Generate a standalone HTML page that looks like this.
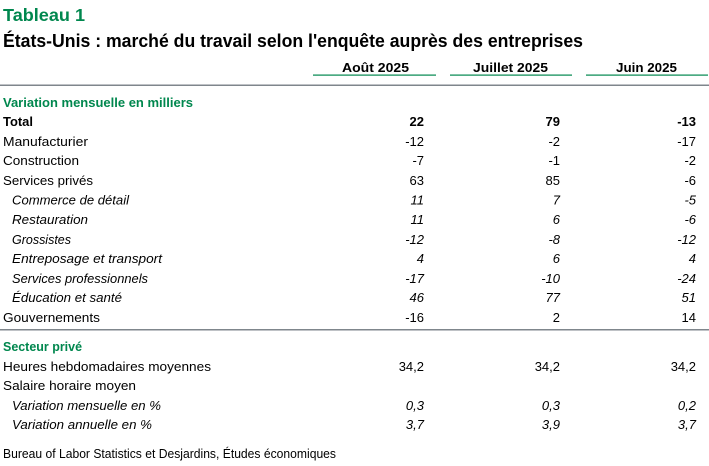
<!DOCTYPE html>
<html><head><meta charset="utf-8"><style>
html,body{margin:0;padding:0;background:#fff;}
svg{display:block;}
text{font-family:"Liberation Sans",sans-serif;fill:#000;}
.g{fill:#00874e;font-weight:bold;}
.b{font-weight:bold;}
.i{font-style:italic;}
.n{font-size:13px;text-anchor:end;}
.l{font-size:13px;}
</style></head><body>
<svg width="709" height="466" viewBox="0 0 709 466" xmlns="http://www.w3.org/2000/svg">
<text x="3" y="21" class="g" style="font-size:17.5px" textLength="82" lengthAdjust="spacingAndGlyphs">Tableau 1</text>
<text x="3" y="47" class="b" style="font-size:18.5px" textLength="580" lengthAdjust="spacingAndGlyphs">États-Unis : marché du travail selon l'enquête auprès des entreprises</text>

<text x="342" y="72" class="b l" textLength="67" lengthAdjust="spacingAndGlyphs">Août 2025</text>
<text x="473" y="72" class="b l" textLength="75" lengthAdjust="spacingAndGlyphs">Juillet 2025</text>
<text x="616" y="72" class="b l" textLength="61" lengthAdjust="spacingAndGlyphs">Juin 2025</text>
<rect x="313" y="74.5" width="123" height="1.2" fill="#00874e"/>
<rect x="450" y="74.5" width="122" height="1.2" fill="#00874e"/>
<rect x="586" y="74.5" width="122" height="1.2" fill="#00874e"/>
<rect x="0" y="84.5" width="709" height="1.5" fill="#7f868c"/>

<text x="3" y="107" class="g l" textLength="190" lengthAdjust="spacingAndGlyphs">Variation mensuelle en milliers</text>

<text x="3" y="126" class="b l" textLength="30" lengthAdjust="spacingAndGlyphs">Total</text>
<text x="424" y="126" class="b n">22</text><text x="560" y="126" class="b n">79</text><text x="696" y="126" class="b n">-13</text>

<text x="3" y="146" class="l" textLength="85" lengthAdjust="spacingAndGlyphs">Manufacturier</text>
<text x="424" y="146" class="n">-12</text><text x="560" y="146" class="n">-2</text><text x="696" y="146" class="n">-17</text>

<text x="3" y="165" class="l" textLength="76" lengthAdjust="spacingAndGlyphs">Construction</text>
<text x="424" y="165" class="n">-7</text><text x="560" y="165" class="n">-1</text><text x="696" y="165" class="n">-2</text>

<text x="3" y="185" class="l" textLength="90" lengthAdjust="spacingAndGlyphs">Services privés</text>
<text x="424" y="185" class="n">63</text><text x="560" y="185" class="n">85</text><text x="696" y="185" class="n">-6</text>

<text x="12" y="204.5" class="l i" textLength="117" lengthAdjust="spacingAndGlyphs">Commerce de détail</text>
<text x="424" y="204.5" class="n i">11</text><text x="560" y="204.5" class="n i">7</text><text x="696" y="204.5" class="n i">-5</text>

<text x="12" y="224" class="l i" textLength="76" lengthAdjust="spacingAndGlyphs">Restauration</text>
<text x="424" y="224" class="n i">11</text><text x="560" y="224" class="n i">6</text><text x="696" y="224" class="n i">-6</text>

<text x="12" y="244" class="l i" textLength="59" lengthAdjust="spacingAndGlyphs">Grossistes</text>
<text x="424" y="244" class="n i">-12</text><text x="560" y="244" class="n i">-8</text><text x="696" y="244" class="n i">-12</text>

<text x="12" y="263" class="l i" textLength="150" lengthAdjust="spacingAndGlyphs">Entreposage et transport</text>
<text x="424" y="263" class="n i">4</text><text x="560" y="263" class="n i">6</text><text x="696" y="263" class="n i">4</text>

<text x="12" y="283" class="l i" textLength="136" lengthAdjust="spacingAndGlyphs">Services professionnels</text>
<text x="424" y="283" class="n i">-17</text><text x="560" y="283" class="n i">-10</text><text x="696" y="283" class="n i">-24</text>

<text x="12" y="302" class="l i" textLength="110" lengthAdjust="spacingAndGlyphs">Éducation et santé</text>
<text x="424" y="302" class="n i">46</text><text x="560" y="302" class="n i">77</text><text x="696" y="302" class="n i">51</text>

<text x="3" y="322" class="l" textLength="97" lengthAdjust="spacingAndGlyphs">Gouvernements</text>
<text x="424" y="322" class="n">-16</text><text x="560" y="322" class="n">2</text><text x="696" y="322" class="n">14</text>

<rect x="0" y="329" width="709" height="1.5" fill="#7f868c"/>

<text x="3" y="351" class="g l" textLength="79" lengthAdjust="spacingAndGlyphs">Secteur privé</text>

<text x="3" y="371" class="l" textLength="208" lengthAdjust="spacingAndGlyphs">Heures hebdomadaires moyennes</text>
<text x="424" y="371" class="n">34,2</text><text x="560" y="371" class="n">34,2</text><text x="696" y="371" class="n">34,2</text>

<text x="3" y="390" class="l" textLength="133" lengthAdjust="spacingAndGlyphs">Salaire horaire moyen</text>

<text x="12" y="410" class="l i" textLength="149" lengthAdjust="spacingAndGlyphs">Variation mensuelle en %</text>
<text x="424" y="410" class="n i">0,3</text><text x="560" y="410" class="n i">0,3</text><text x="696" y="410" class="n i">0,2</text>

<text x="12" y="429" class="l i" textLength="140" lengthAdjust="spacingAndGlyphs">Variation annuelle en %</text>
<text x="424" y="429" class="n i">3,7</text><text x="560" y="429" class="n i">3,9</text><text x="696" y="429" class="n i">3,7</text>

<text x="3" y="458" class="l" textLength="333" lengthAdjust="spacingAndGlyphs">Bureau of Labor Statistics et Desjardins, Études économiques</text>
</svg>
</body></html>
